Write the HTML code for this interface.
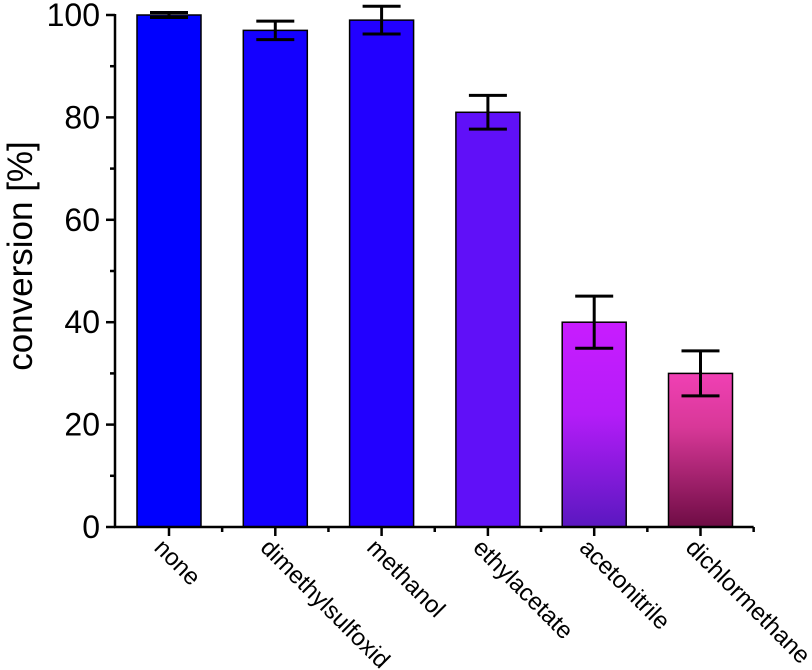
<!DOCTYPE html>
<html><head><meta charset="utf-8"><style>
html,body{margin:0;padding:0;background:#fff;}
svg{display:block;font-family:"Liberation Sans",Arial,sans-serif;}
</style></head><body>
<svg id="chart" width="812" height="670">
<defs>
<linearGradient id="gA" x1="0" y1="0" x2="0" y2="1"><stop offset="0" stop-color="#c81cff"/><stop offset="0.45" stop-color="#b41cf8"/><stop offset="1" stop-color="#5a18c0"/></linearGradient>
<linearGradient id="gD" x1="0" y1="0" x2="0" y2="1"><stop offset="0" stop-color="#f040b4"/><stop offset="0.35" stop-color="#d83898"/><stop offset="1" stop-color="#6e0c44"/></linearGradient>
</defs>
</svg>
<script>
const categories=["none","dimethylsulfoxid","methanol","ethylacetate","acetonitrile","dichlormethane"];
const values=[100,97,99,81,40,30];
const errors=[0.5,1.8,2.7,3.3,5.1,4.4];
const yTicks=[0,20,40,60,80,100];
const fills=["#0000ff","#1400ff","#2200ff","#6010f8","url(#gA)","url(#gD)"];
const svg=document.getElementById('chart');
const NS="http://www.w3.org/2000/svg";
const x0=115,step=106.3,firstC=169,bw=64;
const y=v=>527-v*5.12;
const xc=i=>firstC+i*step;
function mk(t,a,p){const e=document.createElementNS(NS,t);for(const k in a)e.setAttribute(k,a[k]);(p||svg).appendChild(e);return e;}
categories.forEach((c,i)=>{
 const r=mk('rect',{x:xc(i)-bw/2,y:y(values[i]),width:bw,height:y(0)-y(values[i]),fill:fills[i],stroke:'#000','stroke-width':1.5});
 
 
 const g=mk('g',{stroke:'#000','stroke-width':3});
 
 
 const t=y(values[i]+errors[i]),b=y(values[i]-errors[i]);
 mk('line',{x1:xc(i),x2:xc(i),y1:t,y2:b},g);
 mk('line',{x1:xc(i)-19,x2:xc(i)+19,y1:t,y2:t},g);
 mk('line',{x1:xc(i)-19,x2:xc(i)+19,y1:b,y2:b},g);
 const lx=xc(i)-16,ly=549;
 const tx=mk('text',{x:lx,y:ly,'font-size':24,transform:`rotate(45 ${lx} ${ly})`});
 tx.textContent=c;
 
 
 const tk=mk('line',{x1:xc(i),x2:xc(i),y1:527,y2:536,stroke:'#000','stroke-width':2.5});
 
 
 const mt=mk('line',{x1:xc(i)+step/2,x2:xc(i)+step/2,y1:527,y2:532,stroke:'#000','stroke-width':2.5});
 
 
});
const ax=mk('line',{x1:x0,x2:x0,y1:14,y2:528,stroke:'#000','stroke-width':2.5});


const xa=mk('line',{x1:x0-1,x2:xc(5)+step/2,y1:527,y2:527,stroke:'#000','stroke-width':2.5});


yTicks.forEach(v=>{
 const l=mk('line',{x1:106,x2:x0,y1:y(v),y2:y(v),stroke:'#000','stroke-width':2.5});
 
 
 if(v<100){const m=mk('line',{x1:110,x2:x0,y1:y(v+10),y2:y(v+10),stroke:'#000','stroke-width':2.5});
 
 }
 const t=mk('text',{x:100,y:y(v)+11,'font-size':32,'text-anchor':'end'});
 t.textContent=v;
 
 
});
const yt=mk('text',{x:32,y:256,'font-size':35,'text-anchor':'middle',transform:'rotate(-90 32 256)'});
yt.textContent='conversion [%]';


</script>
</body></html>
